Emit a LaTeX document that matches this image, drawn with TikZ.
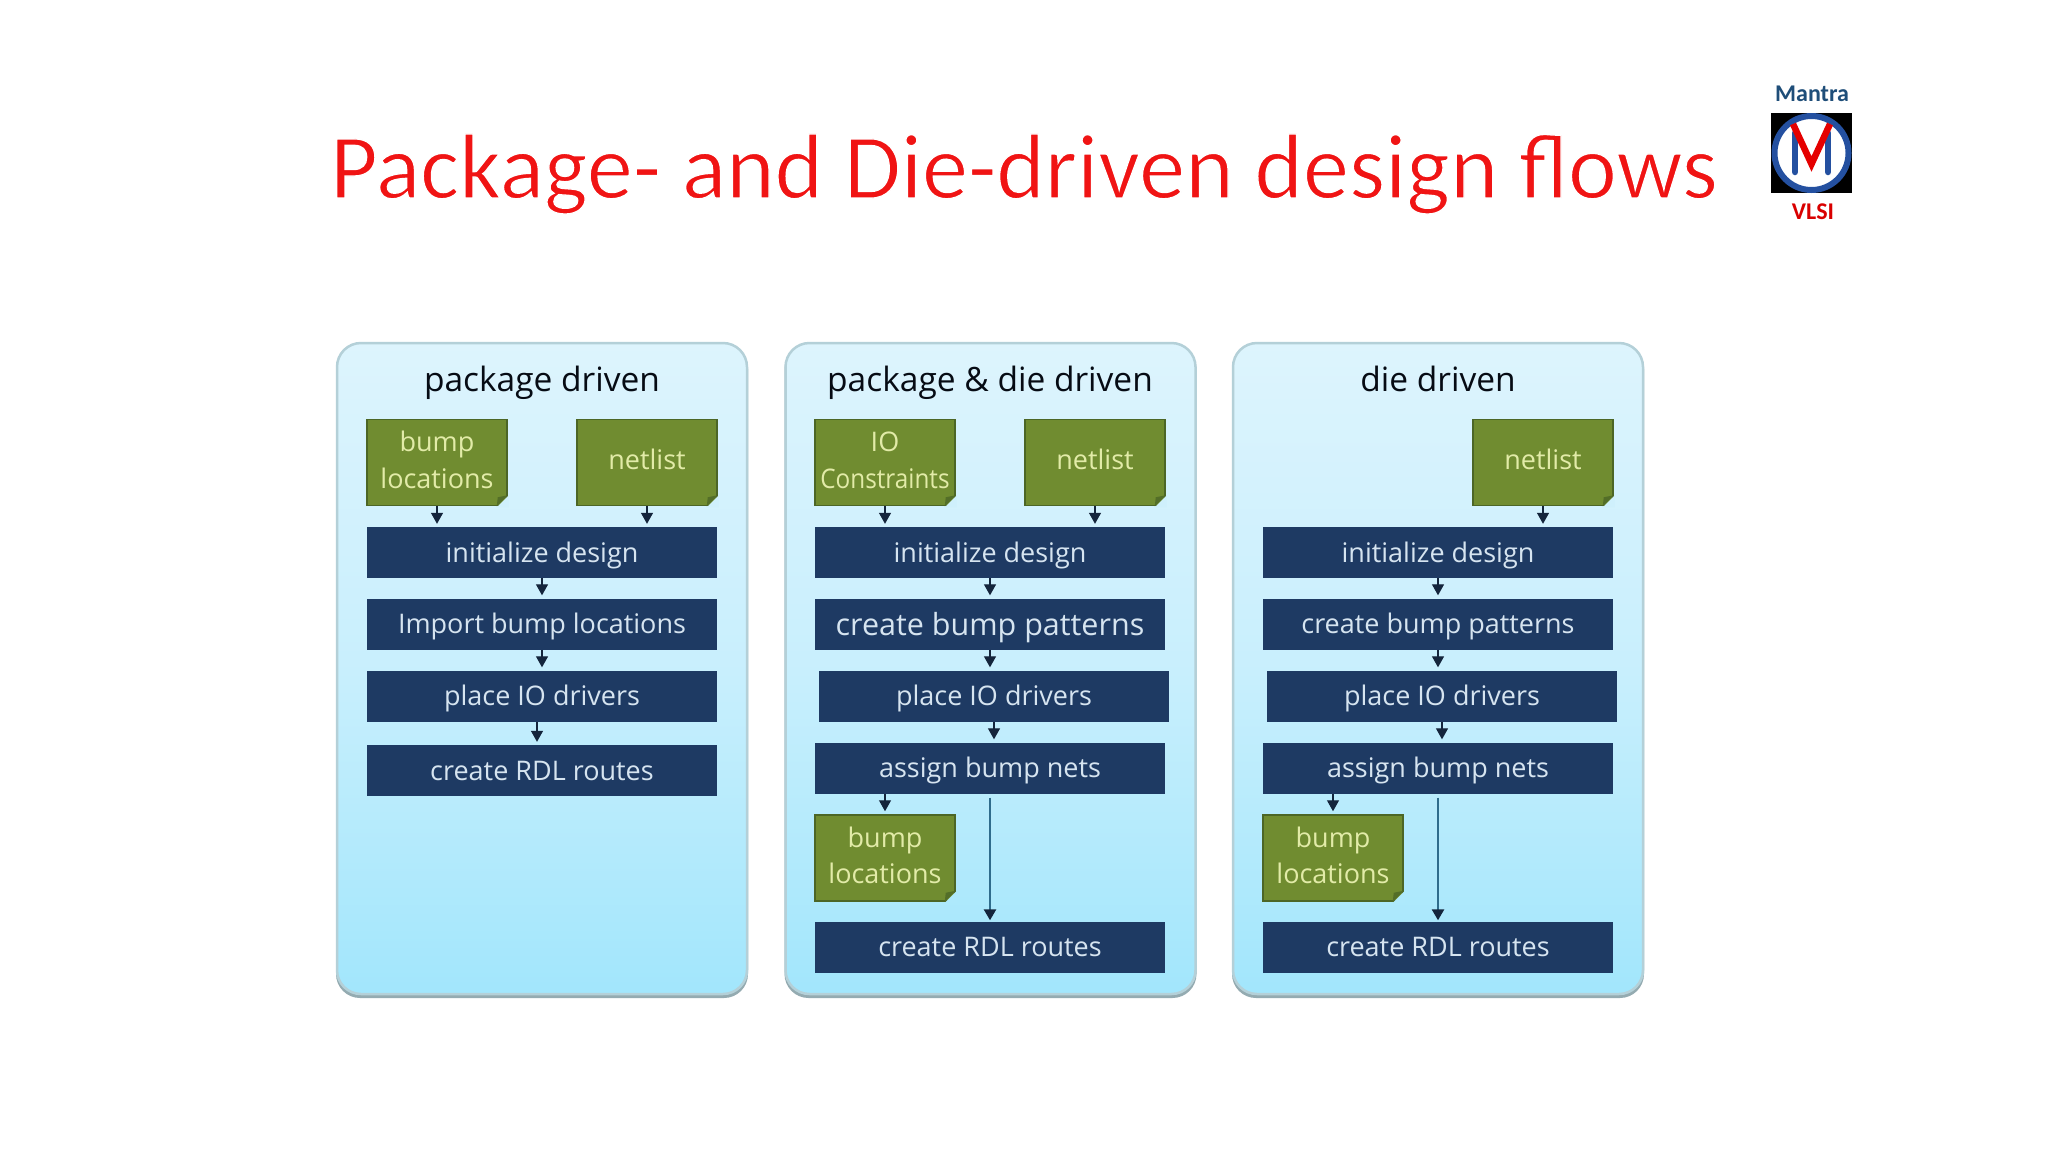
\documentclass[tikz,border=0pt]{standalone}
\usepackage{fontspec}
\setmainfont{Open Sans}
\newfontfamily\carl{Carlito}
\usetikzlibrary{arrows.meta}
\definecolor{boxblue}{HTML}{1E3A63}
\definecolor{boxtext}{HTML}{D6E4F0}
\definecolor{docgreen}{HTML}{708C30}
\definecolor{docline}{HTML}{4C6626}
\definecolor{doctext}{HTML}{E2EBA8}
\definecolor{paneltop}{HTML}{DDF4FD}
\definecolor{panelbot}{HTML}{A2E6FC}
\definecolor{panelline}{HTML}{B4D0D8}
\definecolor{titlered}{HTML}{F01414}
\definecolor{longline}{HTML}{2F6C8C}
\definecolor{tipdark}{HTML}{14253C}
\definecolor{logoblue}{HTML}{2450A0}
\definecolor{mantrablue}{HTML}{1F4E79}
\definecolor{foldtop}{HTML}{CFF0FC}
\definecolor{foldbot}{HTML}{AEE9FC}
\tikzset{
  panel/.style={minimum width=410pt,minimum height=651pt,rounded corners=24pt,
    top color=paneltop,bottom color=panelbot,middle color=paneltop!65!panelbot,draw=panelline,line width=2.5pt,inner sep=0pt},
  panelshadow/.style={minimum width=412pt,minimum height=653pt,rounded corners=24pt,fill=black!18!panelline,inner sep=0pt},
  headtext/.style={font=\fontsize{33.5}{36}\selectfont,text=black!80!boxblue,inner sep=0pt,anchor=base},
  flowstep/.style={fill=boxblue,text=boxtext,minimum width=350pt,minimum height=51pt,inner sep=0pt,text height=22pt,text depth=3pt,font=\fontsize{27}{30}\selectfont},
  docbox/.style={fill=docgreen,draw=docline,line width=1.5pt,text=doctext,minimum width=140pt,minimum height=86pt,inner sep=0pt,font=\fontsize{27}{36.5}\selectfont},
  arr/.style={draw=tipdark,line width=1.3pt,-{Triangle[length=11pt,width=12pt]},shorten >=3pt},
  arrlong/.style={draw=longline,line width=2.5pt,-{Triangle[length=11pt,width=12pt,color=tipdark]},shorten >=1pt,shorten <=4pt},
}
% two-line label of a document node
\newcommand{\twolines}[2]{\raisebox{5.5pt}{\begin{tabular}{@{}c@{}}#1\\#2\end{tabular}}}
% folded corner of a document node
\newcommand{\docfold}[2]{%
  \fill[#2] ([xshift=-11pt,yshift=-1pt]#1.south east) -- ([xshift=1pt,yshift=-1pt]#1.south east) -- ([xshift=1pt,yshift=11pt]#1.south east) -- cycle;
  \fill[docline!80!docgreen] ([xshift=-11pt]#1.south east) -- ([yshift=11pt]#1.south east) -- ([xshift=-10pt,yshift=9pt]#1.south east) -- cycle;
}
\begin{document}
\begin{tikzpicture}[x=1pt,y=-1pt]
\useasboundingbox (0,0) rectangle (2048,1152);
\fill[white] (0,0) rectangle (2048,1152);
% title
\node[font=\carl\fontsize{92.4}{100}\selectfont,text=titlered,inner sep=0pt] (title) at (1024,174) {\special{pdf:code 2 Tr 1 1 1 RG 1.3 w}Package- and Die-driven design flows\special{pdf:code 0 Tr 1 w}};
% logo
\node[font=\carl\bfseries\fontsize{24}{26}\selectfont,text=mantrablue,inner sep=0pt] (mantra) at (1812,94) {Mantra};
\node[font=\carl\bfseries\fontsize{24}{26}\selectfont,text=red!85!black,inner sep=0pt] (vlsi) at (1813,212) {VLSI};
\fill[black] (1771,113) rectangle (1852,193);
\draw[fill=white,draw=logoblue,line width=6pt] (1811.5,153) circle (37pt);
\draw[logoblue,line width=6.5pt,line cap=round] (1795,133) -- (1795,172) (1828,133) -- (1828,172);
\draw[red!90!black,line width=6.5pt] (1793,124) -- (1811.5,164) -- (1830,124);
% panels
\foreach \cx in {542,990.5,1438} {
  \node[panelshadow] at (\cx,671.5) {};
}
\node[panel] (P1) at (542,668.5) {};
\node[panel] (P2) at (990.5,668.5) {};
\node[panel] (P3) at (1438,668.5) {};
\node[headtext] (H1) at (542,391) {package driven};
\node[headtext] (H2) at (990,391) {package \& die driven};
\node[headtext] (H3) at (1438,391) {die driven};
% panel 1
\node[docbox] (a1) at (437,462.5) {\twolines{bump}{locations}};
\node[docbox] (a2) at (647,462.5) {\raisebox{6.5pt}{netlist}};
\docfold{a1}{foldtop}\docfold{a2}{foldtop}
\node[flowstep] (a3) at (542,552.5) {initialize design};
\node[flowstep] (a4) at (542,624) {Import bump locations};
\node[flowstep] (a5) at (542,696) {place IO drivers};
\node[flowstep] (a6) at (542,770.5) {create RDL routes};
\draw[arr] (a1.south) -- (a1.south |- a3.north);
\draw[arr] (a2.south) -- (a2.south |- a3.north);
\draw[arr] (a3) -- (a4);
\draw[arr] (a4) -- (a5);
\draw[arr] ([xshift=-5pt]a5.south) -- ([xshift=-5pt]a6.north);
% panel 2
\node[docbox] (b1) at (885,462.5) {\twolines{IO}{\scalebox{.9}[1]{Constraints}}};
\node[docbox] (b2) at (1095,462.5) {\raisebox{6.5pt}{netlist}};
\docfold{b1}{foldtop}\docfold{b2}{foldtop}
\node[flowstep] (b3) at (990,552.5) {initialize design};
\node[flowstep,font=\fontsize{30.5}{34}\selectfont,text height=24pt,text depth=2pt] (b4) at (990,624) {create bump patterns};
\node[flowstep] (b5) at (994,696) {place IO drivers};
\node[flowstep] (b6) at (990,768) {assign bump nets};
\node[docbox] (b7) at (885,858) {\twolines{bump}{locations}};
\docfold{b7}{foldbot}
\node[flowstep] (b8) at (990,947) {create RDL routes};
\draw[arr] (b1.south) -- (b1.south |- b3.north);
\draw[arr] (b2.south) -- (b2.south |- b3.north);
\draw[arr] (b3) -- (b4);
\draw[arr] (b4) -- (b4 |- b5.north);
\draw[arr] (b5) -- (b5 |- b6.north);
\draw[arr] (b7.north |- b6.south) -- (b7.north);
\draw[arrlong] (b6.south) -- (b8.north);
% panel 3
\node[docbox] (c2) at (1543,462.5) {\raisebox{6.5pt}{netlist}};
\docfold{c2}{foldtop}
\node[flowstep] (c3) at (1438,552.5) {initialize design};
\node[flowstep] (c4) at (1438,624) {create bump patterns};
\node[flowstep] (c5) at (1442,696) {place IO drivers};
\node[flowstep] (c6) at (1438,768) {assign bump nets};
\node[docbox] (c7) at (1333,858) {\twolines{bump}{locations}};
\docfold{c7}{foldbot}
\node[flowstep] (c8) at (1438,947) {create RDL routes};
\draw[arr] (c2.south) -- (c2.south |- c3.north);
\draw[arr] (c3) -- (c4);
\draw[arr] (c4) -- (c4 |- c5.north);
\draw[arr] (c5) -- (c5 |- c6.north);
\draw[arr] (c7.north |- c6.south) -- (c7.north);
\draw[arrlong] (c6.south) -- (c8.north);
\end{tikzpicture}
\end{document}
